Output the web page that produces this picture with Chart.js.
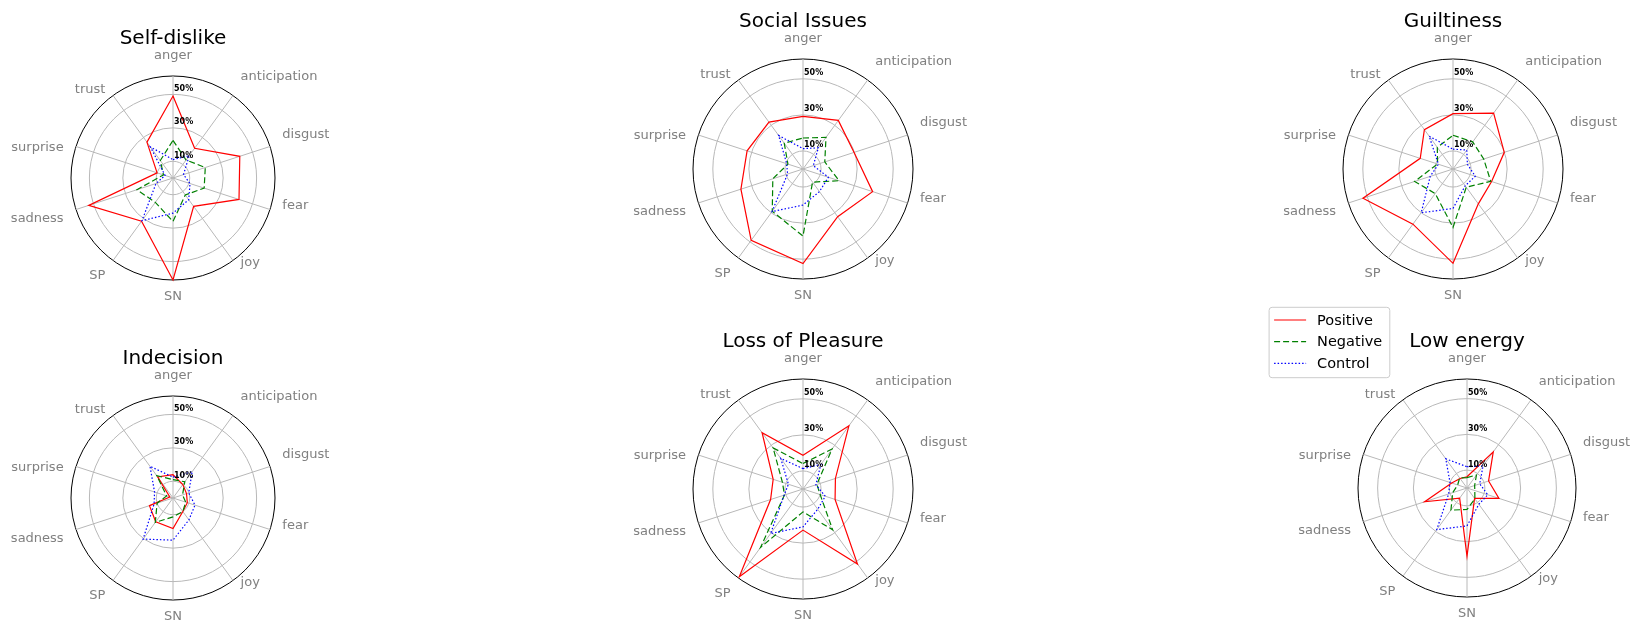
<!DOCTYPE html>
<html>
<head>
<meta charset="utf-8">
<script src="https://cdn.jsdelivr.net/npm/chart.js@4.4.1/dist/chart.umd.min.js"></script>
<style>
  html, body { margin: 0; padding: 0; background: #fff; }
  body { width: 1641px; height: 628px; overflow: hidden; position: relative; }
  canvas { position: absolute; }
</style>
</head>
<body>
<script>
// Emotion axes, clockwise from the top
const emotions = ['anger', 'anticipation', 'disgust', 'fear', 'joy', 'SN', 'SP', 'sadness', 'surprise', 'trust'];
const groups = ['Positive', 'Negative', 'Control'];
const ringTicks = [10, 30, 50];   // labelled rings, in %
const radialMax = 61;             // outer circle, in %

// Share of posts (%) per emotion
const selfDislikePos = [49, 22, 42, 41.5, 21, 61, 32, 53, 10, 26.5];
const selfDislikeNeg = [22.5, 13.3, 20.3, 19.6, 12.5, 26, 18, 22.7, 6, 12.9];
const selfDislikeCtl = [11, 16.5, 6.6, 10.7, 16, 21, 31.6, 10.7, 5, 23];

const socialPos = [29.2, 33.3, 29.8, 40.6, 32.7, 52.4, 48.9, 36.2, 32.6, 32.1];
const socialNeg = [17.2, 21.7, 12.7, 21, 9, 37.2, 29, 17.6, 8.8, 17.7];
const socialCtl = [11.3, 14.5, 6, 14.8, 15.5, 20, 29.2, 9, 9.5, 23];

const guiltPos = [30.7, 38.3, 29.9, 22.5, 23.9, 52.3, 37.8, 52.5, 19.1, 27];
const guiltNeg = [18.7, 18.6, 17.9, 22, 12.5, 32.4, 16.8, 22.4, 9, 14.8];
const guiltCtl = [11, 13, 8.4, 13, 11.5, 21.9, 30, 13.3, 8.5, 22.5];

const indecisionPos = [13.9, 10, 8.5, 9, 10, 18.3, 17.6, 14.8, 2, 15.6];
const indecisionNeg = [11, 12, 6, 8, 10, 11.3, 18, 10, 4, 16.5];
const indecisionCtl = [12.5, 19.5, 9.9, 13.8, 16.2, 25.2, 30.4, 11.9, 11.6, 23.4];

const pleasurePos = [18.7, 43.3, 18.9, 18.7, 51.4, 22.8, 60.1, 18.9, 17.4, 38.6];
const pleasureNeg = [14.1, 27.4, 8.1, 10, 28, 12.7, 40, 10.8, 12, 28.2];
const pleasureCtl = [11.3, 16.8, 7.5, 13, 13.9, 21, 30.5, 11, 8.5, 21];

const energyPos = [6.3, 25, 12.7, 18.8, 7.2, 38.2, 7, 24.9, 9, 6.6];
const energyNeg = [5.8, 9, 4.5, 4.6, 7.5, 12, 15.3, 8.4, 5.5, 7];
const energyCtl = [11.9, 15.3, 7.5, 12.2, 11.3, 21.2, 28.8, 10.8, 10, 20.2];

// Line look of each group
const groupStyles = [
  { color: '#ff0000', dash: [] },
  { color: '#008000', dash: [6, 3] },
  { color: '#0000ff', dash: [1.5, 2] }
];

// Panel placement on the page: polar centre and outer radius
const panels = [
  { title: 'Self-dislike',     cx: 172.5,  cy: 178,   R: 102.5, series: [selfDislikePos, selfDislikeNeg, selfDislikeCtl] },
  { title: 'Social Issues',    cx: 803,    cy: 168.8, R: 110.3, series: [socialPos, socialNeg, socialCtl] },
  { title: 'Guiltiness',       cx: 1452.8, cy: 168.8, R: 110.3, series: [guiltPos, guiltNeg, guiltCtl] },
  { title: 'Indecision',       cx: 172.5,  cy: 497.7, R: 102.5, series: [indecisionPos, indecisionNeg, indecisionCtl] },
  { title: 'Loss of Pleasure', cx: 803,    cy: 488.8, R: 110,   series: [pleasurePos, pleasureNeg, pleasureCtl] },
  { title: 'Low energy',       cx: 1467.2, cy: 488,   R: 109.7, series: [energyPos, energyNeg, energyCtl], legend: { x: 1269.3, y: 307.3 } }
];

// Draws axis names, ring labels, panel title and (optionally) the legend box
const polarDecor = {
  id: 'polarDecor',
  afterDatasetsDraw(chart, args, opts) {
    const s = chart.scales.r;
    const ctx = chart.ctx;
    const R = s.drawingArea;
    const cx = s.xCenter, cy = s.yCenter;
    ctx.save();

    ctx.font = 'bold 8px "DejaVu Sans"';
    ctx.fillStyle = '#000';
    ctx.textAlign = 'left';
    ctx.textBaseline = 'alphabetic';
    ringTicks.forEach(v => {
      const d = s.getDistanceFromCenterForValue(v);
      ctx.fillText(v + '%', cx + 1, cy - d - 3.5);
    });

    ctx.font = '13px "DejaVu Sans"';
    ctx.fillStyle = '#808080';
    ctx.textBaseline = 'middle';
    emotions.forEach((name, i) => {
      const p = s.getPointPosition(i, R + 13);
      const deg = i * 360 / emotions.length;
      let align = 'center', dy = 0;
      if (deg === 0) { dy = -7.5; }
      else if (deg === 180) { dy = 4; }
      else if (deg < 180) { align = 'left'; dy = -8; }
      else { align = 'right'; dy = 5; }
      ctx.textAlign = align;
      ctx.fillText(name, p.x, p.y + dy);
    });

    ctx.font = '20px "DejaVu Sans"';
    ctx.fillStyle = '#000';
    ctx.textAlign = 'center';
    ctx.fillText(opts.title, cx, cy - R - 37.5);

    if (opts.legend) {
      const lx = opts.legend.x, ly = opts.legend.y;
      const w = 120.7, h = 70.4, rad = 3;
      ctx.beginPath();
      ctx.moveTo(lx + rad, ly);
      ctx.arcTo(lx + w, ly, lx + w, ly + h, rad);
      ctx.arcTo(lx + w, ly + h, lx, ly + h, rad);
      ctx.arcTo(lx, ly + h, lx, ly, rad);
      ctx.arcTo(lx, ly, lx + w, ly, rad);
      ctx.closePath();
      ctx.fillStyle = 'rgba(255,255,255,0.8)';
      ctx.fill();
      ctx.strokeStyle = '#cccccc';
      ctx.lineWidth = 1;
      ctx.stroke();
      ctx.font = '14.5px "DejaVu Sans"';
      ctx.textAlign = 'left';
      ctx.textBaseline = 'middle';
      chart.data.datasets.forEach((ds, i) => {
        const y = ly + 12.7 + i * 21.7;
        ctx.beginPath();
        ctx.setLineDash(ds.borderDash || []);
        ctx.strokeStyle = ds.borderColor;
        ctx.lineWidth = ds.borderWidth;
        ctx.moveTo(lx + 5, y);
        ctx.lineTo(lx + 37, y);
        ctx.stroke();
        ctx.setLineDash([]);
        ctx.fillStyle = '#000';
        ctx.fillText(ds.label, lx + 48, y + 1);
      });
    }
    ctx.restore();
  }
};

const halfW = 215, halfH = 190;

panels.forEach(panel => {
  const canvas = document.createElement('canvas');
  canvas.width = halfW * 2;
  canvas.height = halfH * 2;
  const left = panel.cx - halfW, top = panel.cy - halfH;
  canvas.style.left = left + 'px';
  canvas.style.top = top + 'px';
  document.body.appendChild(canvas);

  const padX = halfW - panel.R, padY = halfH - panel.R;

  new Chart(canvas, {
    type: 'radar',
    data: {
      labels: emotions,
      datasets: groups.map((g, i) => ({
        label: g,
        data: panel.series[i],
        borderColor: groupStyles[i].color,
        borderDash: groupStyles[i].dash,
        borderWidth: 1.2,
        backgroundColor: 'transparent',
        fill: false,
        tension: 0,
        pointRadius: 0,
        pointHoverRadius: 0,
        order: 3 - i
      }))
    },
    options: {
      responsive: false,
      animation: false,
      devicePixelRatio: 1,
      layout: { padding: { left: padX, right: padX, top: padY, bottom: padY } },
      plugins: {
        legend: { display: false },
        tooltip: { enabled: false },
        title: { display: false },
        polarDecor: {
          title: panel.title,
          legend: panel.legend ? { x: panel.legend.x - left, y: panel.legend.y - top } : null
        }
      },
      scales: {
        r: {
          min: 0,
          max: radialMax,
          afterBuildTicks: scale => {
            scale.ticks = [0, ...ringTicks, radialMax].map(value => ({ value }));
          },
          ticks: { display: false },
          pointLabels: { display: false },
          angleLines: { display: true, color: '#b8b8b8', lineWidth: 1 },
          grid: {
            circular: true,
            color: c => (c.tick && c.tick.value === radialMax) ? '#000000' : '#b8b8b8',
            lineWidth: 1
          }
        }
      }
    },
    plugins: [polarDecor]
  });
});
</script>
</body>
</html>
